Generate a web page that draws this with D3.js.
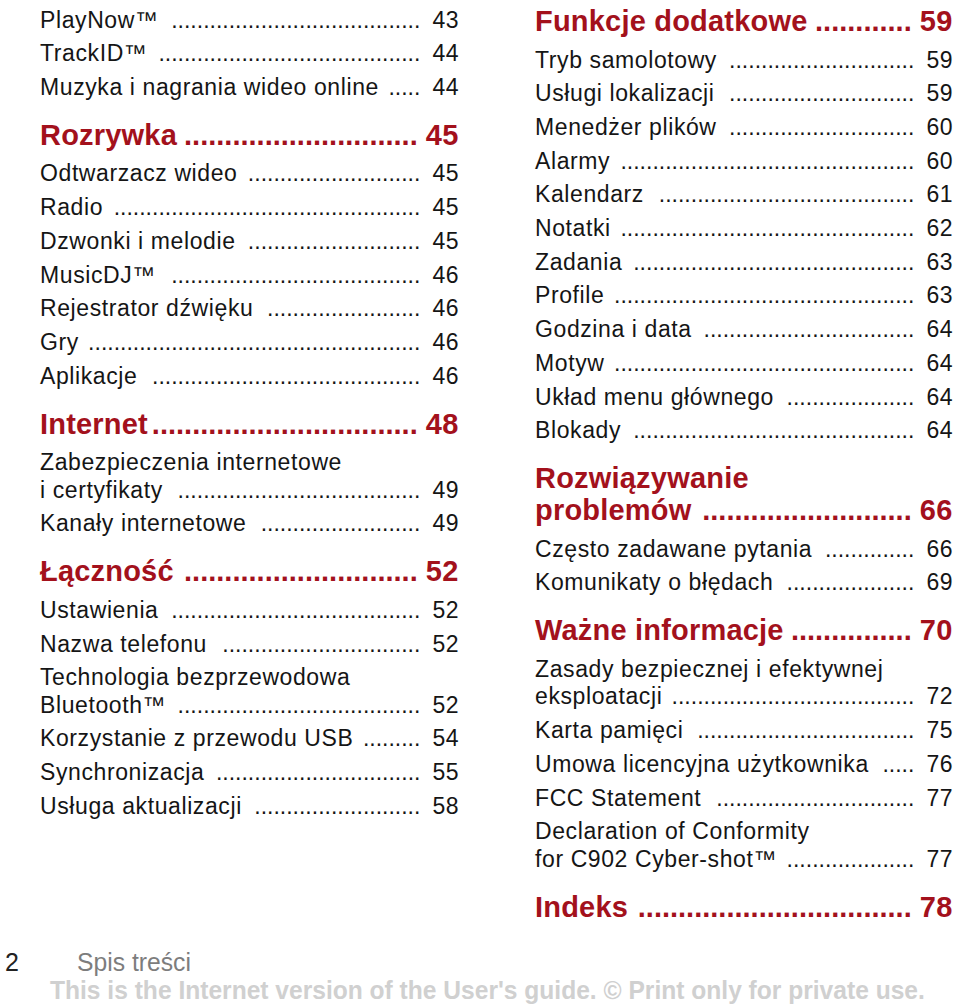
<!DOCTYPE html>
<html>
<head>
<meta charset="utf-8">
<script src="https://cdn.jsdelivr.net/npm/d3@7"></script>
<style>
  body { margin: 0; background: #fff; }
  svg { display: block; }
</style>
</head>
<body>
<div id="page"></div>
<script>
// table of contents, page 2 (kind: h = section heading, i = entry; "|" = line break)
const leftLabels = ["PlayNow™", "TrackID™", "Muzyka i nagrania wideo online", "Rozrywka",
  "Odtwarzacz wideo", "Radio", "Dzwonki i melodie", "MusicDJ™", "Rejestrator dźwięku", "Gry",
  "Aplikacje", "Internet", "Zabezpieczenia internetowe|i certyfikaty", "Kanały internetowe",
  "Łączność", "Ustawienia", "Nazwa telefonu", "Technologia bezprzewodowa|Bluetooth™",
  "Korzystanie z przewodu USB", "Synchronizacja", "Usługa aktualizacji"];
const leftPages = [43, 44, 44, 45, 45, 45, 45, 46, 46, 46, 46, 48, 49, 49, 52, 52, 52, 52, 54, 55, 58];
const leftKinds = ["i","i","i","h","i","i","i","i","i","i","i","h","i","i","h","i","i","i","i","i","i"];

const rightLabels = ["Funkcje dodatkowe", "Tryb samolotowy", "Usługi lokalizacji", "Menedżer plików",
  "Alarmy", "Kalendarz", "Notatki", "Zadania", "Profile", "Godzina i data", "Motyw",
  "Układ menu głównego", "Blokady", "Rozwiązywanie|problemów", "Często zadawane pytania",
  "Komunikaty o błędach", "Ważne informacje", "Zasady bezpiecznej i efektywnej|eksploatacji",
  "Karta pamięci", "Umowa licencyjna użytkownika", "FCC Statement",
  "Declaration of Conformity|for C902 Cyber-shot™", "Indeks"];
const rightPages = [59, 59, 59, 60, 60, 61, 62, 63, 63, 64, 64, 64, 64, 66, 66, 69, 70, 72, 75, 76, 77, 77, 78];
const rightKinds = ["h","i","i","i","i","i","i","i","i","i","i","i","i","h","i","i","h","i","i","i","i","i","h"];

const pageNumber = "2";
const chapterTitle = "Spis treści";
const watermark = "This is the Internet version of the User's guide. © Print only for private use.";

const width = 960, height = 1007;
const red = "#a3111c", ink = "#151515";
const font = "'Liberation Sans', Arial, Helvetica, sans-serif";

const svg = d3.select("#page").append("svg")
  .attr("width", width)
  .attr("height", height);

// vertical rhythm
const gap = { ii: 33.7, ih: 50, hi: 36.5, hh: 50 };
const wrapGap = { i: 27.5, h: 32 };

function layout(labels, pages, kinds, firstBase) {
  let rows = [], y = firstBase;
  labels.forEach((lab, k) => {
    if (k > 0) y += gap[kinds[k - 1] + kinds[k]];
    const lines = lab.split("|");
    lines.forEach((t, j) => {
      if (j > 0) y += wrapGap[kinds[k]];
      rows.push({ text: t, kind: kinds[k], y: y, page: j === lines.length - 1 ? pages[k] : null });
    });
  });
  return rows;
}

function drawColumn(rows, x0, numRight) {
  const g = svg.append("g");
  const row = g.selectAll("g.row").data(rows).join("g")
    .attr("class", "row")
    .attr("transform", d => `translate(0,${d.y})`)
    .attr("fill", d => d.kind === "h" ? red : ink)
    .style("font-family", font)
    .style("font-size", d => d.kind === "h" ? "29px" : "23px")
    .style("font-weight", d => d.kind === "h" ? "bold" : "normal");

  row.append("text")
    .attr("class", "label")
    .attr("x", x0)
    .style("letter-spacing", d => d.kind === "h" ? "0.2px" : "0.6px")
    .text(d => d.text);

  const withPage = row.filter(d => d.page !== null);
  withPage.append("text")
    .attr("class", "num")
    .attr("x", numRight)
    .attr("text-anchor", "end")
    .style("letter-spacing", "0.5px")
    .text(d => d.page);

  // dot leaders filling the space between label and page number
  withPage.each(function(d) {
    const sel = d3.select(this);
    const h = d.kind === "h";
    const labW = sel.select(".label").node().getComputedTextLength();
    const numW = sel.select(".num").node().getComputedTextLength();
    const dotEnd = numRight - numW - (h ? 8 : 12);
    const probe = sel.append("text").text("..........");
    const dotW = probe.node().getComputedTextLength() / 10;
    probe.remove();
    const n = Math.max(0, Math.floor((dotEnd - (x0 + labW + (h ? 3 : 9))) / dotW));
    sel.append("text")
      .attr("x", dotEnd)
      .attr("text-anchor", "end")
      .text(".".repeat(n));
  });
}

drawColumn(layout(leftLabels, leftPages, leftKinds, 27.5), 40, 459);
drawColumn(layout(rightLabels, rightPages, rightKinds, 31), 535, 953);

// footer
const foot = svg.append("g").style("font-family", "'Liberation Sans Narrow', 'Arial Narrow', " + font);
foot.append("text")
  .attr("x", 5).attr("y", 971)
  .attr("fill", "#222")
  .style("font-size", "25px")
  .text(pageNumber);

function fitText(text, x, y, w, size, weight, fill) {
  const t = foot.append("text")
    .attr("fill", fill)
    .style("font-size", size + "px")
    .style("font-weight", weight)
    .text(text);
  const natural = t.node().getComputedTextLength();
  t.attr("transform", `translate(${x},${y}) scale(${w / natural},1)`);
}
fitText(chapterTitle, 77, 971, 114, 25, "normal", "#7d7d7d");
fitText(watermark, 50, 999, 875, 26, "bold", "#d0d0d0");
</script>
</body>
</html>
